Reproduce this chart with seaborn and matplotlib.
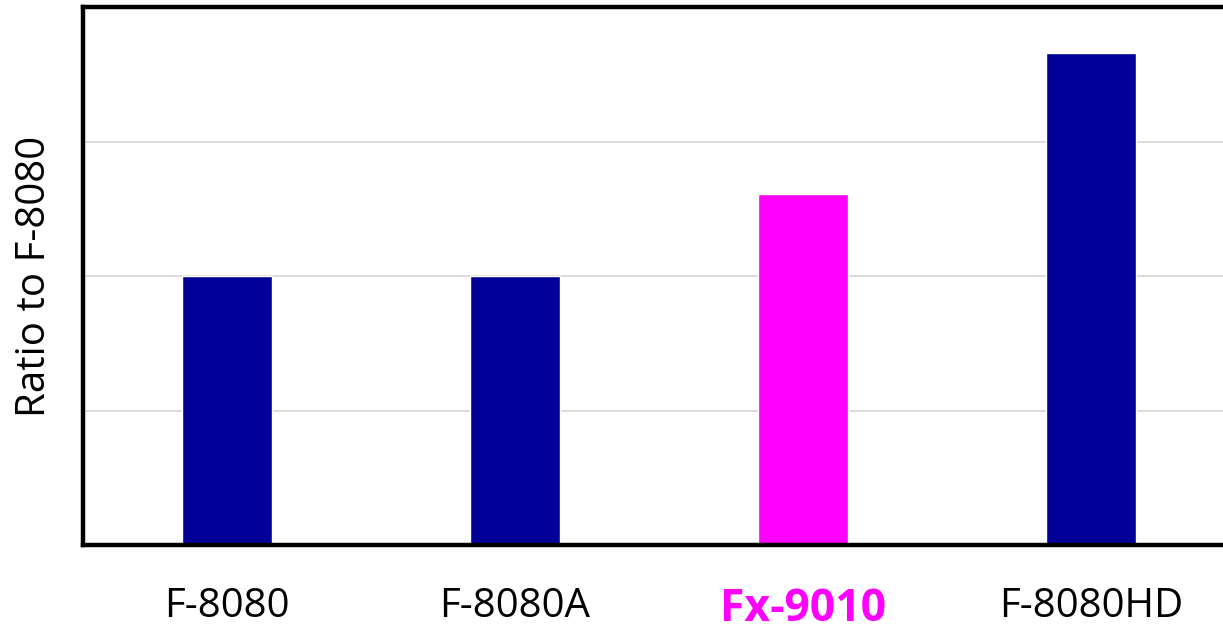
import matplotlib
matplotlib.use("Agg")
import matplotlib.pyplot as plt
import seaborn as sns
import pandas as pd

categories = ["F-8080", "F-8080A", "Fx-9010", "F-8080HD"]
values = [1.0, 1.0, 1.305, 1.83]
bar_colors = ["#000099", "#000099", "#FF00FF", "#000099"]
y_label = "Ratio to F-8080"

sns.set_theme(style="white")
plt.rcParams["font.family"] = ["Open Sans", "DejaVu Sans"]
plt.rcParams["text.color"] = "black"
plt.rcParams["axes.labelcolor"] = "black"
plt.rcParams["xtick.color"] = "black"

df = pd.DataFrame({"model": categories, "ratio": values})

W, H = 1223, 631
fig = plt.figure(figsize=(W / 100, H / 100), dpi=100)
ax = fig.add_axes([83 / W, (H - 545) / H, (1235 - 83) / W, (545 - 7) / H])

sns.barplot(data=df, x="model", y="ratio", hue="model", palette=bar_colors,
            legend=False, width=0.3125, saturation=1, ax=ax)

ax.set_xlim(-0.5, 3.5)
ax.set_ylim(0, 2.0)
ax.set_yticks([0.5, 1.0, 1.5])
ax.set_yticklabels([])
ax.tick_params(axis="y", length=0)
ax.tick_params(axis="x", length=0, pad=30, labelsize=29, labelcolor="black")
ax.yaxis.grid(True, color="#d9d9d9", linewidth=1.3)
ax.set_axisbelow(True)
ax.set_xlabel("")
ax.set_ylabel(y_label, fontsize=29, labelpad=17, color="black")

for side in ["left", "bottom", "top"]:
    ax.spines[side].set_visible(True)
    ax.spines[side].set_color("black")
    ax.spines[side].set_linewidth(3.2)
ax.spines["right"].set_visible(False)

for lbl in ax.get_xticklabels():
    if lbl.get_text() == "Fx-9010":
        lbl.set_color("#FF00FF")
        lbl.set_fontweight("bold")
        lbl.set_fontsize(32)

fig.savefig("out.png", dpi=100)
